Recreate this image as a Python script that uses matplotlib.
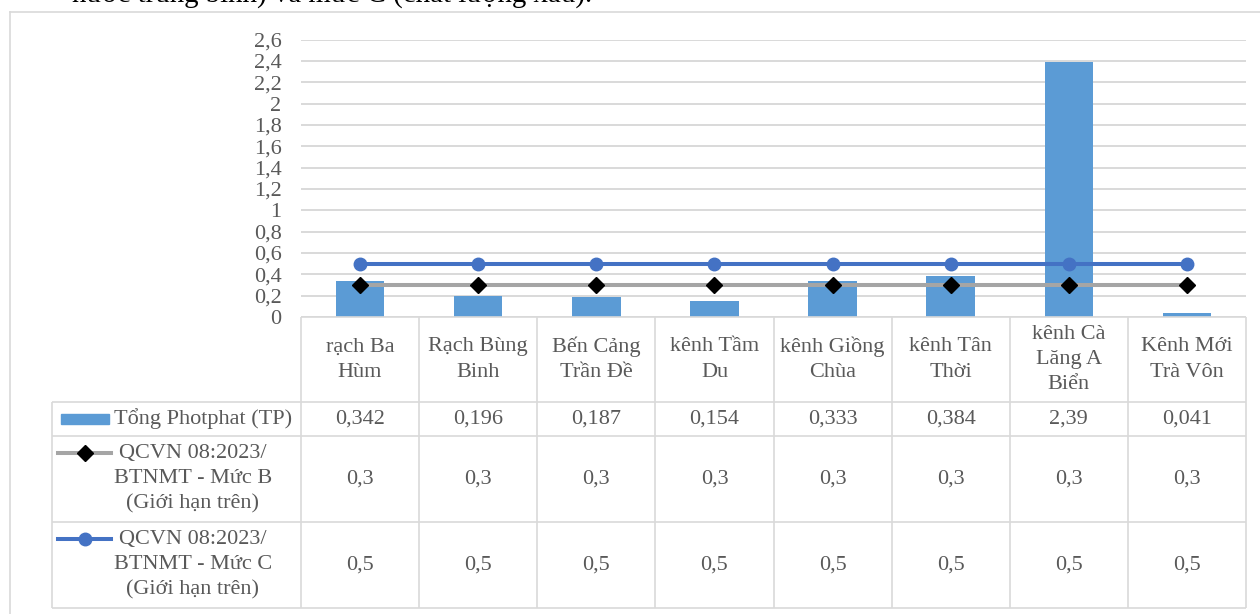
import numpy as np
import matplotlib
matplotlib.use('Agg')
from matplotlib import pyplot as plt
from matplotlib.patches import Rectangle
from matplotlib.lines import Line2D
from matplotlib.ticker import FuncFormatter, MultipleLocator

# ── data ─────────────────────────────────────────────────────────────────────
SITES = ['rạch Ba\nHùm', 'Rạch Bùng\nBinh', 'Bến Cảng\nTrần Đề', 'kênh Tầm\nDu',
         'kênh Giồng\nChùa', 'kênh Tân\nThời', 'kênh Cà\nLăng A\nBiển', 'Kênh Mới\nTrà Vôn']
TP = [0.342, 0.196, 0.187, 0.154, 0.333, 0.384, 2.39, 0.041]
LIM_B = [0.3, 0.3, 0.3, 0.3, 0.3, 0.3, 0.3, 0.3]
LIM_C = [0.5, 0.5, 0.5, 0.5, 0.5, 0.5, 0.5, 0.5]
TP_LABELS = ['0,342', '0,196', '0,187', '0,154', '0,333', '0,384', '2,39', '0,041']
SERIES_NAMES = ['Tổng Photphat (TP)',
                'QCVN 08:2023/\nBTNMT - Mức B\n(Giới hạn trên)',
                'QCVN 08:2023/\nBTNMT - Mức C\n(Giới hạn trên)']
CAPTION = 'nước trung bình) và mức C (chất lượng xấu).'

# ── style ────────────────────────────────────────────────────────────────────
W, H = 1260, 614
BAR_COL = '#5B9BD5'
B_COL = '#A5A5A5'
C_COL = '#4472C4'
GRID = '#D9D9D9'
TXT = '#595959'
FS = 16
LW = 2.9
LS = 1.45     # line spacing for wrapped labels
plt.rcParams['font.family'] = ['Liberation Serif', 'DejaVu Serif']

fx = lambda px: px / W
fy = lambda py: 1 - py / H

# layout in pixels
X0, X1 = 301, 1246           # plot area / value columns
LEG_X = 52                   # left edge of legend column
Y_TOP, Y_BOT = 39.7, 317     # plot area
ROWS = [317, 402, 436, 522, 608]
n = len(TP)
colw = (X1 - X0) / n

fig = plt.figure(figsize=(W / 100, H / 100), dpi=100)

# caption line from the page, cut at the top edge as in the source
fig.text(fx(72), fy(2), CAPTION, fontsize=20.8, color='black',
         ha='left', va='baseline')

# outer frame
fig.add_artist(Line2D([fx(10), fx(10)], [fy(12), 0], color=GRID, lw=1.2))
fig.add_artist(Line2D([fx(10), 1], [fy(12), fy(12)], color=GRID, lw=1.2))

# ── chart ────────────────────────────────────────────────────────────────────
ax = fig.add_axes([fx(X0), fy(Y_BOT), fx(X1) - fx(X0), fy(Y_TOP) - fy(Y_BOT)])
x = np.arange(n)
ax.bar(x, TP, width=0.41, color=BAR_COL, zorder=2)
ax.plot(x, LIM_B, color=B_COL, lw=LW, marker='D', markersize=8,
        markerfacecolor='black', markeredgecolor='black', zorder=3)
ax.plot(x, LIM_C, color=C_COL, lw=LW, marker='o', markersize=9,
        markerfacecolor=C_COL, markeredgecolor=C_COL, zorder=3)
ax.set_xlim(-0.5, n - 0.5)
ax.set_ylim(0, 2.6)
ax.yaxis.set_major_locator(MultipleLocator(0.2))
ax.yaxis.set_major_formatter(FuncFormatter(lambda v, p: f'{v:g}'.replace('.', ',')))
ax.yaxis.grid(True, color=GRID, lw=1.4, zorder=0)
ax.set_axisbelow(True)
ax.set_xticks([])
ax.tick_params(axis='y', length=0, pad=14, labelsize=FS, labelcolor=TXT)
for s in ax.spines.values():
    s.set_visible(False)

# ── data table ───────────────────────────────────────────────────────────────
tax = fig.add_axes([fx(LEG_X), fy(ROWS[-1]), fx(X1) - fx(LEG_X), fy(ROWS[0]) - fy(ROWS[-1])])
tax.set_xlim(LEG_X, X1)
tax.set_ylim(ROWS[-1], ROWS[0])
tax.axis('off')
tkw = dict(color=GRID, lw=1.2, solid_capstyle='butt')
tax.plot([X0, X1], [ROWS[0], ROWS[0]], clip_on=False, **tkw)
for yy in ROWS[1:]:
    tax.plot([LEG_X, X1], [yy, yy], clip_on=False, **tkw)
for i in range(n + 1):
    xx = X0 + i * colw
    tax.plot([xx, xx], [ROWS[0], ROWS[-1]], clip_on=False, **tkw)
tax.plot([LEG_X, LEG_X], [ROWS[1], ROWS[-1]], clip_on=False, **tkw)

row_mid = [(ROWS[k] + ROWS[k + 1]) / 2 for k in range(4)]
for i in range(n):
    cx = X0 + (i + 0.5) * colw
    tax.text(cx, row_mid[0], SITES[i], ha='center', va='center', fontsize=FS,
             color=TXT, linespacing=LS)
    tax.text(cx, row_mid[1], TP_LABELS[i], ha='center', va='center', fontsize=FS, color=TXT)
    tax.text(cx, row_mid[2], f'{LIM_B[i]:g}'.replace('.', ','), ha='center',
             va='center', fontsize=FS, color=TXT)
    tax.text(cx, row_mid[3], f'{LIM_C[i]:g}'.replace('.', ','), ha='center',
             va='center', fontsize=FS, color=TXT)

# legend keys in first column
tax.add_patch(Rectangle((61, row_mid[1] - 5), 48, 10, color=BAR_COL, clip_on=False))
tax.text(114, row_mid[1], SERIES_NAMES[0], ha='left', va='center', fontsize=FS, color=TXT)

key_b = row_mid[2] - 26
tax.plot([58, 111], [key_b, key_b], color=B_COL, lw=LW, clip_on=False)
tax.plot([85], [key_b], marker='D', markersize=8, color='black', clip_on=False)
tax.text(193, row_mid[2], SERIES_NAMES[1], ha='center', va='center', fontsize=FS,
         color=TXT, linespacing=LS)

key_c = row_mid[3] - 26
tax.plot([58, 111], [key_c, key_c], color=C_COL, lw=LW, clip_on=False)
tax.plot([85], [key_c], marker='o', markersize=9, color=C_COL, clip_on=False)
tax.text(193, row_mid[3], SERIES_NAMES[2], ha='center', va='center', fontsize=FS,
         color=TXT, linespacing=LS)

fig.savefig('out.png', dpi=100)
